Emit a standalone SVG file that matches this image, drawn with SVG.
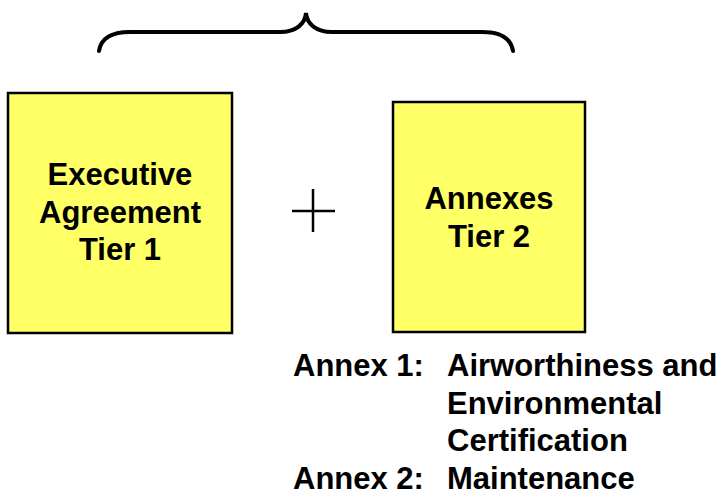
<svg xmlns="http://www.w3.org/2000/svg" width="727" height="492" viewBox="0 0 727 492">
<style>
.box{fill:#ffff66;stroke:#000;stroke-width:2.5}
.t{font-family:"Liberation Sans",Arial,sans-serif;font-weight:bold;font-size:31px;fill:#000}
.c{text-anchor:middle}
</style>
<rect width="727" height="492" fill="#fff"/>
<g id="brace">
<path d="M99,51 C101,38 112,32 130,32 L280,32 C296,32 305,24 306,13 C307,24 316,32 332,32 L482,32 C500,32 511,38 513,51" fill="none" stroke="#000" stroke-width="4" stroke-linecap="round"/>
</g>
<g id="tier1">
<rect class="box" x="8" y="93" width="224" height="240"/>
<text class="t c" x="120" y="185">Executive</text>
<text class="t c" x="120" y="223">Agreement</text>
<text class="t c" x="120" y="260">Tier 1</text>
</g>
<g id="plus">
<path d="M292,211 H335 M313,189 V232" stroke="#000" stroke-width="2.5" fill="none"/>
</g>
<g id="tier2">
<rect class="box" x="393" y="102" width="192" height="230"/>
<text class="t c" x="489" y="209">Annexes</text>
<text class="t c" x="489" y="247">Tier 2</text>
</g>
<g id="annexes">
<text class="t" x="293" y="376">Annex 1:</text>
<text class="t" x="447" y="376">Airworthiness and</text>
<text class="t" x="447" y="414">Environmental</text>
<text class="t" x="447" y="451">Certification</text>
<text class="t" x="293" y="489">Annex 2:</text>
<text class="t" x="447" y="489">Maintenance</text>
</g>
<g id="connectors"/>
</svg>
